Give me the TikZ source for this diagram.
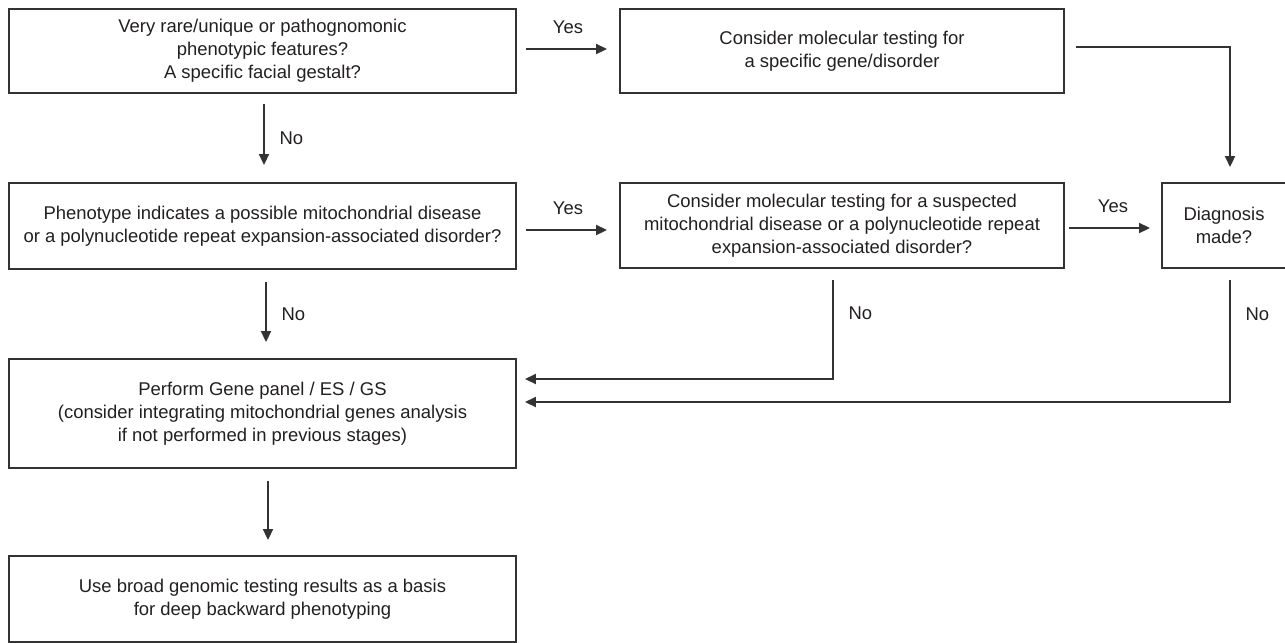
\documentclass[tikz,border=0pt]{standalone}
\usepackage{fontspec}
\setmainfont{Liberation Sans}
\usepackage{xcolor}
\definecolor{chart-ink}{HTML}{231F20}
\definecolor{chart-line}{HTML}{333333}
\usepackage{tikz}
\usetikzlibrary{arrows.meta}

\tikzset{
    stepbox/.style={draw=chart-line, line width=1.1pt, align=center, inner sep=0pt,
                    text=chart-ink, font=\fontsize{10.5}{13}\selectfont},
    flow/.style={draw=chart-line, line width=1.1pt, -{Triangle[length=0.22cm, width=0.2cm]}},
    answer/.style={text=chart-ink, font=\fontsize{10.5}{13}\selectfont},
}

\begin{document}
\begin{tikzpicture}

    % Frame
    \useasboundingbox (0, 0) rectangle (25.7, -12.84);

    % Questions and actions
    \node[stepbox, minimum width=10.14cm, minimum height=1.67cm] (rare) at (5.25, -1.02)
        {Very rare/unique or pathognomonic\\ phenotypic features?\\ A specific facial gestalt?};
    \node[stepbox, minimum width=8.88cm, minimum height=1.67cm] (gene) at (16.84, -1.02)
        {Consider molecular testing for\\ a specific gene/disorder};
    \node[stepbox, minimum width=10.14cm, minimum height=1.72cm] (mito) at (5.25, -4.52)
        {Phenotype indicates a possible mitochondrial disease\\ or a polynucleotide repeat expansion-associated disorder?};
    \node[stepbox, minimum width=8.88cm, minimum height=1.70cm] (repeat) at (16.84, -4.51)
        {Consider molecular testing for a suspected\\ mitochondrial disease or a polynucleotide repeat\\ expansion-associated disorder?};
    \node[stepbox, minimum width=2.48cm, minimum height=1.70cm] (diag) at (24.48, -4.51)
        {Diagnosis\\ made?};
    \node[stepbox, minimum width=10.14cm, minimum height=2.18cm] (panel) at (5.25, -8.27)
        {Perform Gene panel / ES / GS\\ (consider integrating mitochondrial genes analysis\\ if not performed in previous stages)};
    \node[stepbox, minimum width=10.14cm, minimum height=1.72cm] (backward) at (5.25, -11.98)
        {Use broad genomic testing results as a basis\\ for deep backward phenotyping};

    % Yes branches
    \draw[flow, shorten <=0.18cm, shorten >=0.24cm] ([yshift=0.04cm]rare.east) -- node[answer, above=5pt] (yes1) {Yes} ([yshift=0.04cm]rare.east -| gene.west);
    \draw[flow, shorten <=0.18cm, shorten >=0.24cm] ([yshift=-0.08cm]mito.east) -- node[answer, above=5pt] (yes2) {Yes} ([yshift=-0.08cm]mito.east -| repeat.west);
    \draw[flow, shorten <=0.08cm, shorten >=0.22cm] ([yshift=-0.05cm]repeat.east) -- node[answer, above=5pt] (yes3) {Yes} ([yshift=-0.05cm]repeat.east -| diag.west);
    \draw[flow, shorten <=0.22cm, shorten >=0.3cm] ([yshift=0.08cm]gene.east) -| ([xshift=0.12cm]diag.north);

    % No branches
    \draw[flow, shorten <=0.2cm, shorten >=0.34cm] ([xshift=0.03cm]rare.south) -- node[answer, right=5pt] (no1) {No} ([xshift=0.03cm]rare.south |- mito.north);
    \draw[flow, shorten <=0.24cm, shorten >=0.32cm] ([xshift=0.07cm]mito.south) -- node[answer, right=5pt] (no2) {No} ([xshift=0.07cm]mito.south |- panel.north);
    \draw[flow, shorten <=0.22cm, shorten >=0.16cm] ([xshift=-0.18cm]repeat.south) |- node[answer, pos=0.2, right=5pt] (no3) {No} ([yshift=0.69cm]panel.east);
    \draw[flow, shorten <=0.22cm, shorten >=0.16cm] ([xshift=0.12cm]diag.south) |- node[answer, pos=0.17, right=5pt] (no4) {No} ([yshift=0.23cm]panel.east);

    % Next step
    \draw[flow, shorten <=0.24cm, shorten >=0.3cm] ([xshift=0.11cm]panel.south) -- ([xshift=0.11cm]panel.south |- backward.north);

\end{tikzpicture}
\end{document}
